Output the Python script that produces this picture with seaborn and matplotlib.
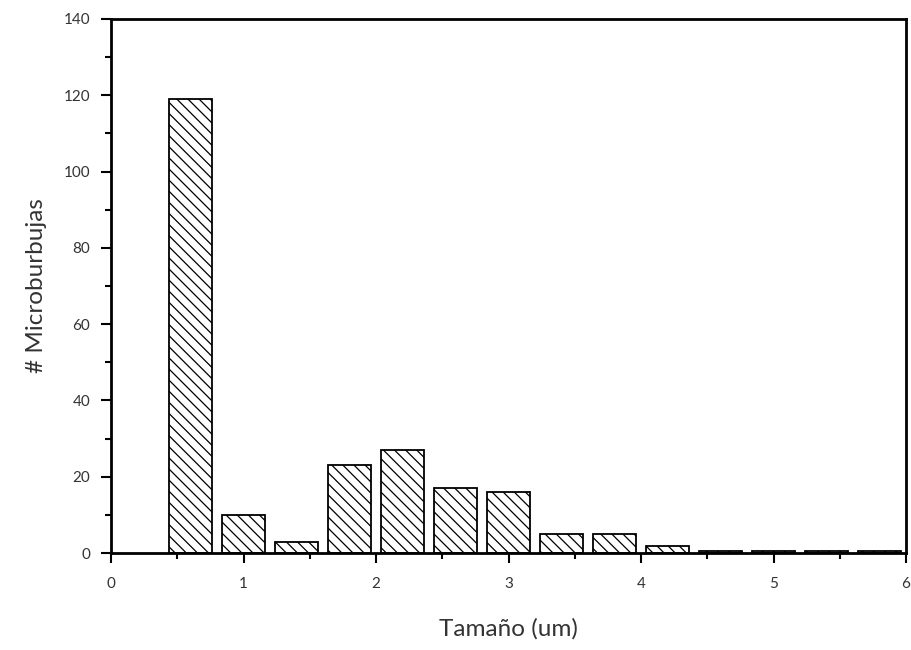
import matplotlib
matplotlib.use("Agg")
import matplotlib.pyplot as plt
import pandas as pd
import seaborn as sns
from matplotlib.ticker import MultipleLocator

# bin centres (um) and counts
tamano = [0.6, 1.0, 1.4, 1.8, 2.2, 2.6, 3.0, 3.4, 3.8, 4.2, 4.6, 5.0, 5.4, 5.8]
conteo = [119, 10, 3, 23, 27, 17, 16, 5, 5, 2, 0.6, 0.6, 0.6, 0.6]

df = pd.DataFrame({"tamano": tamano, "conteo": conteo})

sns.set_theme(style="ticks")
plt.rcParams["font.family"] = ["Lato", "DejaVu Sans"]
plt.rcParams["hatch.linewidth"] = 0.9

fig = plt.figure(figsize=(9.11, 6.5), dpi=100)
ax = fig.add_axes([0.122, 0.149, 0.8725, 0.822])

sns.barplot(
    data=df,
    x="tamano",
    y="conteo",
    native_scale=True,
    width=0.8,
    color="white",
    edgecolor="black",
    linewidth=1.3,
    hatch="\\\\\\",
    ax=ax,
)

ax.set_xlim(0, 6)
ax.set_ylim(0, 140)
ax.xaxis.set_major_locator(MultipleLocator(1))
ax.xaxis.set_minor_locator(MultipleLocator(0.5))
ax.yaxis.set_major_locator(MultipleLocator(20))
ax.yaxis.set_minor_locator(MultipleLocator(10))
ax.tick_params(which="major", direction="out", length=7, width=1.5, labelsize=11,
               labelcolor="#333333", color="black")
ax.tick_params(which="minor", direction="out", length=4, width=1.5, color="black")
ax.tick_params(axis="y", pad=8)
ax.tick_params(axis="x", pad=10)
for side in ["left", "right", "top", "bottom"]:
    ax.spines[side].set_visible(True)
    ax.spines[side].set_linewidth(2)
    ax.spines[side].set_color("black")

ax.set_xlabel("Tamaño (um)", fontsize=17.5, color="#333333", labelpad=20)
ax.set_ylabel("# Microburbujas", fontsize=17.5, color="#333333", labelpad=12)

fig.savefig("out.png", dpi=100)
